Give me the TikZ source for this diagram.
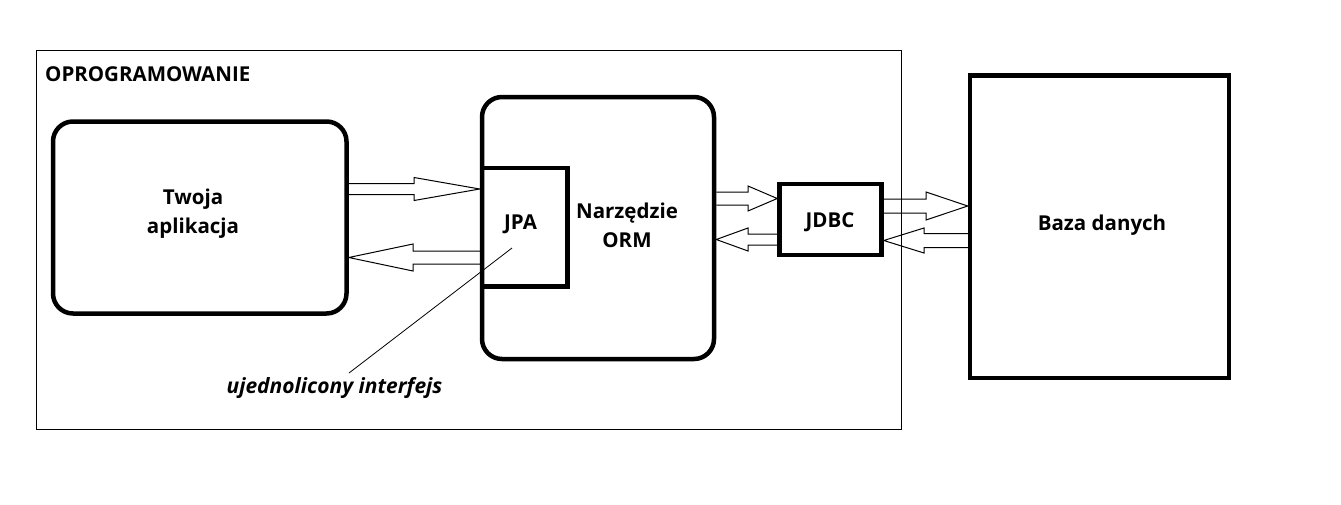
\documentclass[tikz,border=0pt]{standalone}
\usepackage{fontspec}
\setmainfont{Open Sans}
\usetikzlibrary{calc}
\tikzset{
  thickbox/.style={draw=black, line width=4.5pt, inner sep=0pt, fill=none},
  roundbox/.style={thickbox, rounded corners=20pt},
  lbl/.style={font=\bfseries\fontsize{20.5}{29}\selectfont, align=center, inner sep=0pt, anchor=base},
  harrow/.style={draw=black, line width=1pt, line join=miter},
}
\newcommand\hollowarrow[6]{% tail anchor, tip anchor, y, head base x, shaft half, head half
  \draw[harrow] let \p1=(#1), \p2=(#2) in
    (\x1,{#3-#5}) -- ({#4},{#3-#5}) -- ({#4},{#3-#6}) -- (\x2,{#3}) -- ({#4},{#3+#6}) -- ({#4},{#3+#5}) -- (\x1,{#3+#5});}
\begin{document}
\begin{tikzpicture}[x=1pt,y=-1pt]
\useasboundingbox[fill=white] (0,0) rectangle (1341,504);
% outer frame
\node[draw=black, line width=1pt, inner sep=0pt, minimum width=865pt, minimum height=379pt] (sw) at (469,240) {};
\node[lbl, anchor=base west] (swlbl) at (45,81) {OPROGRAMOWANIE};
% boxes
\node[roundbox, minimum width=293.5pt, minimum height=192pt] (app) at (199.75,217.5) {};
\node[roundbox, minimum width=232pt, minimum height=262pt] (orm) at (598,228) {};
\node[thickbox, minimum width=85.5pt, minimum height=118.5pt] (jpa) at (524.75,227.25) {};
\node[thickbox, minimum width=102pt, minimum height=71pt] (jdbc) at (830.5,219.5) {};
\node[thickbox, minimum width=259pt, minimum height=302.5pt] (db) at (1099.5,226.75) {};
% labels
\node[lbl] (applbl) at (193,233) {Twoja\\aplikacja};
\node[lbl] (ormlbl) at (627,247) {Narzędzie\\ORM};
\node[lbl] (jpalbl) at (520.5,229) {JPA};
\node[lbl] (jdbclbl) at (830,227) {JDBC};
\node[lbl] (dblbl) at (1102,230) {Baza danych};
\node[lbl, font=\bfseries\itshape\fontsize{21}{29}\selectfont] (iface) at (334.5,393) {ujednolicony interfejs};
% block arrows
\hollowarrow{app.east}{jpa.west}{189}{414}{5.5}{11.5}
\hollowarrow{jpa.west}{app.east}{257.5}{413}{6.5}{13.5}
\hollowarrow{orm.east}{jdbc.west}{198.5}{748}{6.5}{12.5}
\hollowarrow{jdbc.west}{orm.east}{239.5}{748}{5.5}{11.5}
\hollowarrow{jdbc.east}{db.west}{206}{926}{7}{14}
\hollowarrow{db.west}{jdbc.east}{240.5}{924}{7}{12.5}
% annotation line
\coordinate (lnA) at (512,248);
\coordinate (lnB) at (349,373);
\draw[line width=0.8pt] (lnA) -- (lnB);
\end{tikzpicture}
\end{document}
